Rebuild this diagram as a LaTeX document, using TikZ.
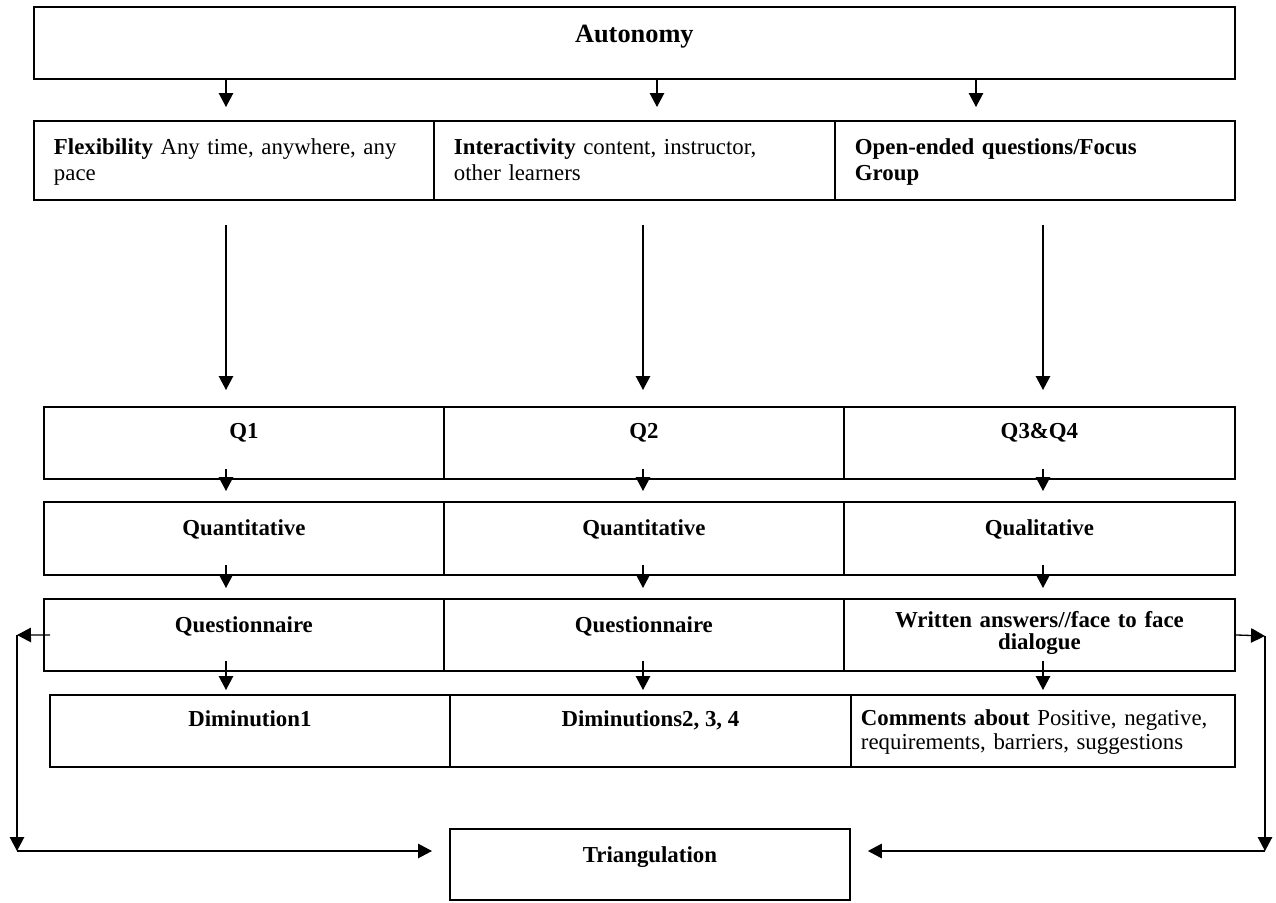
\documentclass[tikz,border=0pt]{standalone}
\usepackage{fontspec}
\setmainfont{Liberation Serif}
\usetikzlibrary{arrows.meta, calc}

\begin{document}
\begin{tikzpicture}[x=0.02cm, y=-0.02cm,
  cell/.style={draw, line width=1.1pt, inner sep=0pt, anchor=north west, align=center, minimum width=8cm, font=\fontsize{13}{15}\selectfont\bfseries},
  leftcell/.style={cell, align=left, inner xsep=0.4cm, font=\fontsize{13}{14.7}\selectfont},
  arr/.style={line width=0.75pt, -{Triangle[length=0.28cm, width=0.29cm]}}]

\useasboundingbox (0,0) rectangle (1276,903);

% Top box
\node[cell, minimum width=24.02cm, text height=0.72cm, text depth=0.72cm, font=\fontsize{15}{18}\selectfont\bfseries] (aut) at (33,6) {Autonomy};

% Criteria
\node[leftcell, text width=7.2cm, text height=0.68cm, text depth=0.9cm] (flx) at (33,120) {\textbf{Flexibility} Any time, anywhere, any\\pace};
\node[leftcell, text width=7.22cm, text height=0.68cm, text depth=0.9cm] (itr) at (433,120) {\textbf{Interactivity} content, instructor,\\other learners};
\node[leftcell, text width=7.2cm, text height=0.68cm, text depth=0.9cm] (opn) at (834,120) {\textbf{Open-ended questions/Focus}\\\textbf{Group}};

% Questions
\node[cell, text height=0.64cm, text depth=0.8cm] (q1) at (43,406) {Q1};
\node[cell, text height=0.64cm, text depth=0.8cm] (q2) at (443,406) {Q2};
\node[cell, minimum width=7.82cm, text height=0.64cm, text depth=0.8cm] (q34) at (843,406) {Q3\&Q4};

% Kind of data
\node[cell, text height=0.68cm, text depth=0.78cm] (qn1) at (43,501) {Quantitative};
\node[cell, text height=0.68cm, text depth=0.78cm] (qn2) at (443,501) {Quantitative};
\node[cell, minimum width=7.82cm, text height=0.68cm, text depth=0.78cm] (ql3) at (843,501) {Qualitative};

% Instruments
\node[cell, text height=0.68cm, text depth=0.76cm] (qs1) at (43,598) {Questionnaire};
\node[cell, text height=0.68cm, text depth=0.76cm] (qs2) at (443,598) {Questionnaire};
\node[cell, minimum width=7.82cm, text width=7.82cm, text height=0.58cm, text depth=0.86cm, font=\fontsize{13}{12.5}\selectfont\bfseries] (wr3) at (843,598) {Written answers//face to face\\dialogue};

% Results
\node[cell, text height=0.64cm, text depth=0.8cm] (d1) at (49,694) {Diminution1};
\node[cell, minimum width=8.02cm, text height=0.64cm, text depth=0.8cm] (d2) at (449,694) {Diminutions2, 3, 4};
\node[leftcell, minimum width=7.68cm, inner xsep=0.2cm, text width=7.28cm, text height=0.62cm, text depth=0.82cm, font=\fontsize{13}{13.2}\selectfont] (cm3) at (850,694) {\textbf{Comments about} Positive, negative,\\requirements, barriers, suggestions};

% Triangulation
\node[cell, text height=0.68cm, text depth=0.74cm] (tri) at (449,828) {Triangulation};

% Arrow columns
\coordinate (k1) at (226,0);
\coordinate (k2) at (657,0);
\coordinate (k3) at (976,0);
\coordinate (c1) at (226,0);
\coordinate (c2) at (643,0);
\coordinate (c3) at (1043,0);
\coordinate (lf) at (17,635);
\coordinate (lb) at (17,851);
\coordinate (rf) at (1265,636);
\coordinate (rb) at (1265,851);

% Arrows
\draw[arr] (aut.south -| k1) -- ($(flx.north -| k1)+(0,-13)$);
\draw[arr] (aut.south -| k2) -- ($(itr.north -| k2)+(0,-13)$);
\draw[arr] (aut.south -| k3) -- ($(opn.north -| k3)+(0,-13)$);

\draw[arr] ($(flx.south -| c1)+(0,24)$) -- ($(q1.north -| c1)+(0,-16)$);
\draw[arr] ($(itr.south -| c2)+(0,24)$) -- ($(q2.north -| c2)+(0,-16)$);
\draw[arr] ($(opn.south -| c3)+(0,24)$) -- ($(q34.north -| c3)+(0,-16)$);

\draw[arr] ($(q1.south -| c1)+(0,-11)$) -- ($(qn1.north -| c1)+(0,-10)$);
\draw[arr] ($(q2.south -| c2)+(0,-11)$) -- ($(qn2.north -| c2)+(0,-10)$);
\draw[arr] ($(q34.south -| c3)+(0,-11)$) -- ($(ql3.north -| c3)+(0,-10)$);

\draw[arr] ($(qn1.south -| c1)+(0,-11)$) -- ($(qs1.north -| c1)+(0,-10)$);
\draw[arr] ($(qn2.south -| c2)+(0,-11)$) -- ($(qs2.north -| c2)+(0,-10)$);
\draw[arr] ($(ql3.south -| c3)+(0,-11)$) -- ($(wr3.north -| c3)+(0,-10)$);

\draw[arr] ($(qs1.south -| c1)+(0,-11)$) -- ($(d1.north -| c1)+(0,-4)$);
\draw[arr] ($(qs2.south -| c2)+(0,-11)$) -- ($(d2.north -| c2)+(0,-4)$);
\draw[arr] ($(wr3.south -| c3)+(0,-11)$) -- ($(cm3.north -| c3)+(0,-4)$);

% Feedback to triangulation
\draw[arr] ($(qs1.west)+(7,0)$) -- (lf);
\draw[arr] (lf) -- (lb);
\draw[arr] (lb) -- ($(lb -| tri.west)+(-17,0)$);
\draw[arr] (wr3.east) -- (rf);
\draw[arr] (rf) -- (rb);
\draw[arr] (rb) -- ($(rb -| tri.east)+(17,0)$);
\end{tikzpicture}
\end{document}
